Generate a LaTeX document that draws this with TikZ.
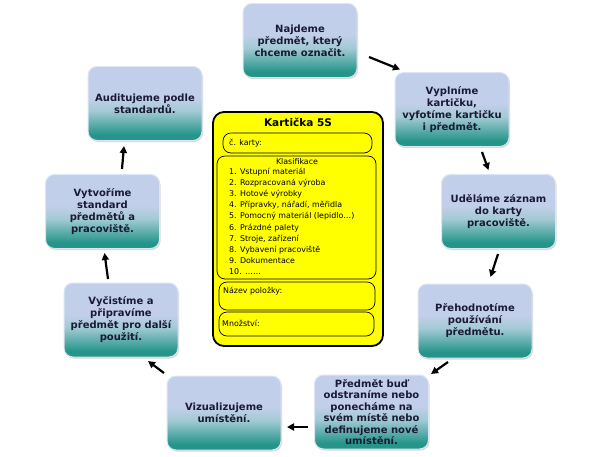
\documentclass[tikz,border=0pt]{standalone}
\usepackage{fontspec}
\setmainfont{DejaVu Sans}
\usetikzlibrary{arrows.meta,shadows}
\definecolor{boxtop}{HTML}{C2CFEA}
\definecolor{boxmid}{HTML}{A2CAD4}
\definecolor{boxbot}{HTML}{25958A}
\definecolor{boxedge}{HTML}{DCE5F3}
\definecolor{txt}{HTML}{1A1A36}
\definecolor{cardy}{HTML}{FFFF00}
\pgfdeclareverticalshading{tealbox}{100bp}{color(0bp)=(boxbot); color(29bp)=(boxbot); color(45bp)=(boxmid); color(54bp)=(boxtop); color(75bp)=(boxtop); color(100bp)=(boxtop)}
\tikzset{
  stepbox/.style={rectangle, rounded corners=9pt, shading=tealbox, draw=boxedge, line width=1pt,
    minimum width=114pt, minimum height=74pt, inner sep=1pt, align=center, text=txt,
    font=\bfseries\fontsize{10}{12}\selectfont,
    drop shadow={shadow xshift=1pt, shadow yshift=-1.5pt, opacity=0.25, fill=black!60}},
  tightbox/.style={font=\bfseries\fontsize{10}{11.4}\selectfont},
  flow/.style={-{Triangle[length=7pt,width=7pt]}, line width=2.2pt, black},
  subbox/.style={draw=black, line width=0.7pt, rounded corners=8pt},
  cardtxt/.style={font=\fontsize{7.9}{11.1}\selectfont, inner sep=0pt, align=left}
}
\begin{document}
\begin{tikzpicture}[x=1pt,y=-1pt]
\useasboundingbox (0,0) rectangle (597,456);
\fill[white] (0,0) rectangle (597,456);

% step boxes
\node[stepbox] (n1) at (300,40.5) {Najdeme\\předmět, který\\chceme označit.};
\node[stepbox] (n2) at (452,109.5) {Vyplníme\\kartičku,\\vyfotíme kartičku\\i předmět.};
\node[stepbox] (n3) at (498.5,211.5) {Uděláme záznam\\do karty\\pracoviště.};
\node[stepbox] (n4) at (475,321) {Přehodnotíme\\používání\\předmětu.};
\node[stepbox, tightbox] (n5) at (371.5,412) {Předmět buď\\odstraníme nebo\\ponecháme na\\svém místě nebo\\definujeme nové\\umístění.};
\node[stepbox] (n6) at (224,413) {Vizualizujeme\\umístění.};
\node[stepbox] (n7) at (121,320) {Vyčistíme a\\připravíme\\předmět pro další\\použití.};
\node[stepbox] (n8) at (102.5,211.5) {Vytvoříme\\standard\\předmětů a\\pracoviště.};
\node[stepbox] (n9) at (145,103.5) {Auditujeme podle\\standardů.};

% arrow end points
\coordinate (a1s) at (369,57);   \coordinate (a1e) at (400,69.5);
\coordinate (a2s) at (482,152);  \coordinate (a2e) at (488.5,170);
\coordinate (a3s) at (498,254);  \coordinate (a3e) at (490.5,277);
\coordinate (a4s) at (448,362);  \coordinate (a4e) at (431,374);
\coordinate (a5s) at (308,427);  \coordinate (a5e) at (287,427);
\coordinate (a6s) at (164,373);  \coordinate (a6e) at (148,361);
\coordinate (a7s) at (108,279);  \coordinate (a7e) at (104.5,253);
\coordinate (a8s) at (122,169);  \coordinate (a8e) at (124,146);
\draw[flow] (a1s) -- (a1e);
\draw[flow] (a2s) -- (a2e);
\draw[flow] (a3s) -- (a3e);
\draw[flow] (a4s) -- (a4e);
\draw[flow] (a5s) -- (a5e);
\draw[flow] (a6s) -- (a6e);
\draw[flow] (a7s) -- (a7e);
\draw[flow] (a8s) -- (a8e);

% card
\draw[fill=cardy, draw=black, line width=1.8pt, rounded corners=11pt] (213,112) rectangle (383,346);
\draw[subbox] (223,133) rectangle (372,153);
\draw[subbox] (217,156) rectangle (376,279);
\draw[subbox] (219,282) rectangle (375,310);
\draw[subbox] (219,312) rectangle (374,336);

\node[font=\bfseries\fontsize{10.5}{12}\selectfont] (title) at (298,122) {Kartička 5S};
\node[cardtxt, anchor=west] (ck) at (229,143) {č. karty:};
\node[font=\fontsize{7.9}{9}\selectfont] (klas) at (297,162) {Klasifikace};
\node[cardtxt, anchor=north west] (list) at (229,168) {1. Vstupní materiál\\2. Rozpracovaná výroba\\3. Hotové výrobky\\4. Přípravky, nářadí, měřidla\\5. Pomocný materiál (lepidlo…)\\6. Prázdné palety\\7. Stroje, zařízení\\8. Vybavení pracoviště\\9. Dokumentace\\10. ……};
\node[cardtxt, anchor=west] (naz) at (223,291) {Název položky:};
\node[cardtxt, anchor=west] (mno) at (222,323) {Množství:};
\end{tikzpicture}
\end{document}
